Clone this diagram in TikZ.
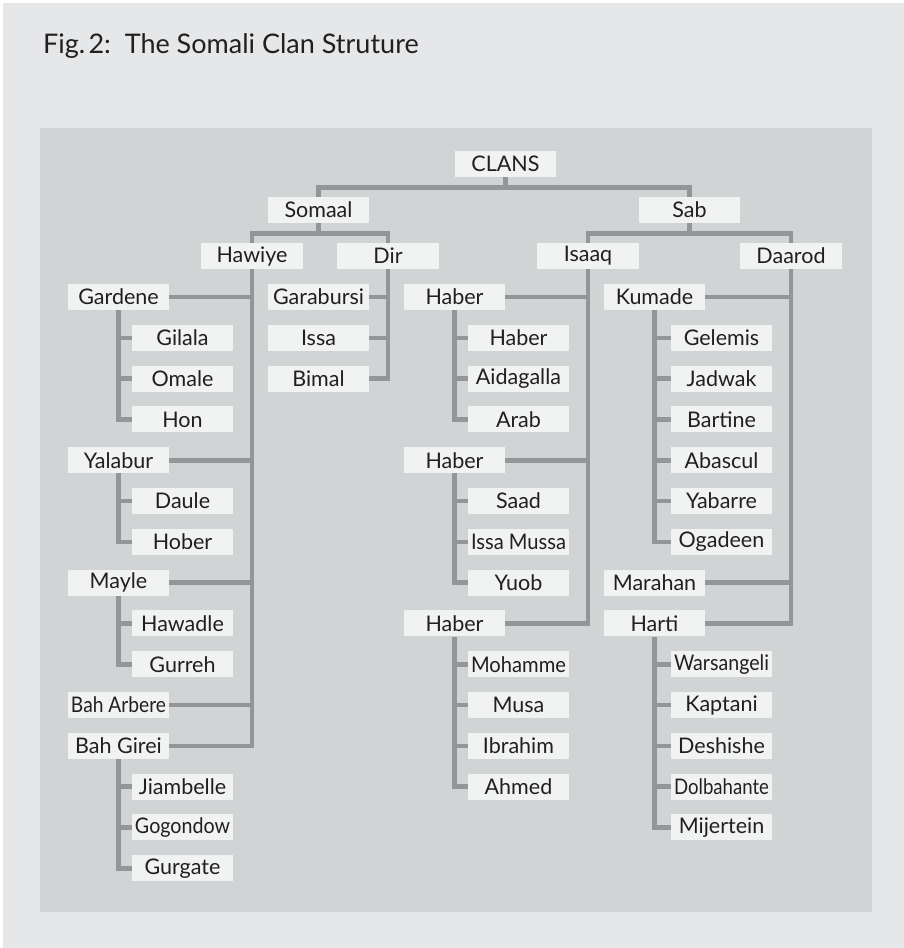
\documentclass[tikz,border=0pt]{standalone}
\usepackage{fontspec}
\setmainfont{Lato}
\usepackage{graphicx}
\definecolor{outerc}{HTML}{E6E7E8}
\definecolor{innerc}{HTML}{D1D3D4}
\definecolor{boxc}{HTML}{F1F2F2}
\definecolor{linec}{HTML}{939598}
\definecolor{txtc}{HTML}{231F20}
\newsavebox\fitbx
\newcommand\fitw[1]{\sbox\fitbx{#1}\ifdim\wd\fitbx>95pt\resizebox{95pt}{\ht\fitbx}{\usebox\fitbx}\else\usebox\fitbx\fi}
\tikzset{
  clanbox/.style={fill=boxc, minimum width=101.5pt, minimum height=26pt, inner sep=0pt,
    text=txtc, font=\fontsize{21.5}{21.5}\selectfont},
  conn/.style={draw=linec, line width=4.6pt, line join=miter, line cap=butt},
}
\newcommand\bx[3]{\node[clanbox] (#1) at (#2) {\fitw{#3}};}
\begin{document}
\begin{tikzpicture}[x=1pt,y=-1pt]
\useasboundingbox (0,0) rectangle (904,948);
\fill[white] (0,0) rectangle (904,948);
\fill[outerc] (3,3) rectangle (904,948);
\fill[innerc] (40,128) rectangle (872,912);
\node[anchor=base west, inner sep=0pt, text=txtc, font=\fontsize{27}{27}\selectfont] (title) at (43,53) {Fig.\hspace{0.12em}2:\ \ The Somali Clan Struture};
% row centres: 297 + 40.8 r
\bx{clans}{505.5,164}{CLANS}
\bx{somaal}{318.5,210}{Somaal}
\bx{sab}{689.5,210}{Sab}
\bx{hawiye}{252,256}{Hawiye}
\bx{dir}{388,256}{Dir}
\bx{isaaq}{588,256}{Isaaq}
\bx{daarod}{791,256}{Daarod}
% Hawiye branch
\bx{gardene}{118.5,297}{Gardene}
\bx{gilala}{182.5,337.8}{Gilala}
\bx{omale}{182.5,378.6}{Omale}
\bx{hon}{182.5,419.4}{Hon}
\bx{yalabur}{118.5,460.2}{Yalabur}
\bx{daule}{182.5,501}{Daule}
\bx{hober}{182.5,541.8}{Hober}
\bx{mayle}{118.5,582.6}{Mayle}
\bx{hawadle}{182.5,623.4}{Hawadle}
\bx{gurreh}{182.5,664.2}{Gurreh}
\bx{baharbere}{118.5,705}{Bah Arbere}
\bx{bahgirei}{118.5,745.8}{Bah Girei}
\bx{jiambelle}{182.5,786.6}{Jiambelle}
\bx{gogondow}{182.5,827.4}{Gogondow}
\bx{gurgate}{182.5,868.2}{Gurgate}
% Dir branch
\bx{garabursi}{318.5,297}{Garabursi}
\bx{issa}{318.5,337.8}{Issa}
\bx{bimal}{318.5,378.6}{Bimal}
% Isaaq branch
\bx{habera}{454.5,297}{Haber}
\bx{haberaa}{518.5,337.8}{Haber}
\bx{aidagalla}{518.5,378.6}{Aidagalla}
\bx{arab}{518.5,419.4}{Arab}
\bx{haberb}{454.5,460.2}{Haber}
\bx{saad}{518.5,501}{Saad}
\bx{issamussa}{518.5,541.8}{Issa Mussa}
\bx{yuob}{518.5,582.6}{Yuob}
\bx{haberc}{454.5,623.4}{Haber}
\bx{mohamme}{518.5,664.2}{Mohamme}
\bx{musa}{518.5,705}{Musa}
\bx{ibrahim}{518.5,745.8}{Ibrahim}
\bx{ahmed}{518.5,786.6}{Ahmed}
% Daarod branch
\bx{kumade}{654.5,297}{Kumade}
\bx{gelemis}{721.5,337.8}{Gelemis}
\bx{jadwak}{721.5,378.6}{Jadwak}
\bx{bartine}{721.5,419.4}{Bartine}
\bx{abascul}{721.5,460.2}{Abascul}
\bx{yabarre}{721.5,501}{Yabarre}
\bx{ogadeen}{721.5,541.8}{Ogadeen}
\bx{marahan}{654.5,582.6}{Marahan}
\bx{harti}{654.5,623.4}{Harti}
\bx{warsangeli}{721.5,664.2}{Warsangeli}
\bx{kaptani}{721.5,705}{Kaptani}
\bx{deshishe}{721.5,745.8}{Deshishe}
\bx{dolbahante}{721.5,786.6}{Dolbahante}
\bx{mijertein}{721.5,827.4}{Mijertein}
% bus coordinates
\coordinate (busa) at (0,187.5);
\coordinate (busb) at (0,233.5);
% top levels
\draw[conn] (clans.south) -- (clans.south |- busa);
\draw[conn] (somaal.north) |- (sab.north |- busa) -- (sab.north);
\draw[conn] (somaal.south) -- (somaal.south |- busb);
\draw[conn] (hawiye.north) |- (dir.north |- busb) -- (dir.north);
\draw[conn] (sab.south) -- (sab.south |- busb);
\draw[conn] (isaaq.north) |- (daarod.north |- busb) -- (daarod.north);
% Hawiye
\draw[conn] (hawiye.south) |- (bahgirei.east);
\foreach \n in {gardene,yalabur,mayle,baharbere}
  \draw[conn] (\n.east) -- (hawiye.south |- \n.east);
\draw[conn] (gardene.south) |- (hon.west);
\foreach \n in {gilala,omale}
  \draw[conn] (\n.west) -- (gardene.south |- \n.west);
\draw[conn] (yalabur.south) |- (hober.west);
\draw[conn] (daule.west) -- (yalabur.south |- daule.west);
\draw[conn] (mayle.south) |- (gurreh.west);
\draw[conn] (hawadle.west) -- (mayle.south |- hawadle.west);
\draw[conn] (bahgirei.south) |- (gurgate.west);
\foreach \n in {jiambelle,gogondow}
  \draw[conn] (\n.west) -- (bahgirei.south |- \n.west);
% Dir
\draw[conn] (dir.south) |- (bimal.east);
\foreach \n in {garabursi,issa}
  \draw[conn] (\n.east) -- (dir.south |- \n.east);
% Isaaq
\draw[conn] (isaaq.south) |- (haberc.east);
\foreach \n in {habera,haberb}
  \draw[conn] (\n.east) -- (isaaq.south |- \n.east);
\draw[conn] (habera.south) |- (arab.west);
\foreach \n in {haberaa,aidagalla}
  \draw[conn] (\n.west) -- (habera.south |- \n.west);
\draw[conn] (haberb.south) |- (yuob.west);
\foreach \n in {saad,issamussa}
  \draw[conn] (\n.west) -- (haberb.south |- \n.west);
\draw[conn] (haberc.south) |- (ahmed.west);
\foreach \n in {mohamme,musa,ibrahim}
  \draw[conn] (\n.west) -- (haberc.south |- \n.west);
% Daarod
\draw[conn] (daarod.south) |- (harti.east);
\foreach \n in {kumade,marahan}
  \draw[conn] (\n.east) -- (daarod.south |- \n.east);
\draw[conn] (kumade.south) |- (ogadeen.west);
\foreach \n in {gelemis,jadwak,bartine,abascul,yabarre}
  \draw[conn] (\n.west) -- (kumade.south |- \n.west);
\draw[conn] (harti.south) |- (mijertein.west);
\foreach \n in {warsangeli,kaptani,deshishe,dolbahante}
  \draw[conn] (\n.west) -- (harti.south |- \n.west);
\end{tikzpicture}
\end{document}
